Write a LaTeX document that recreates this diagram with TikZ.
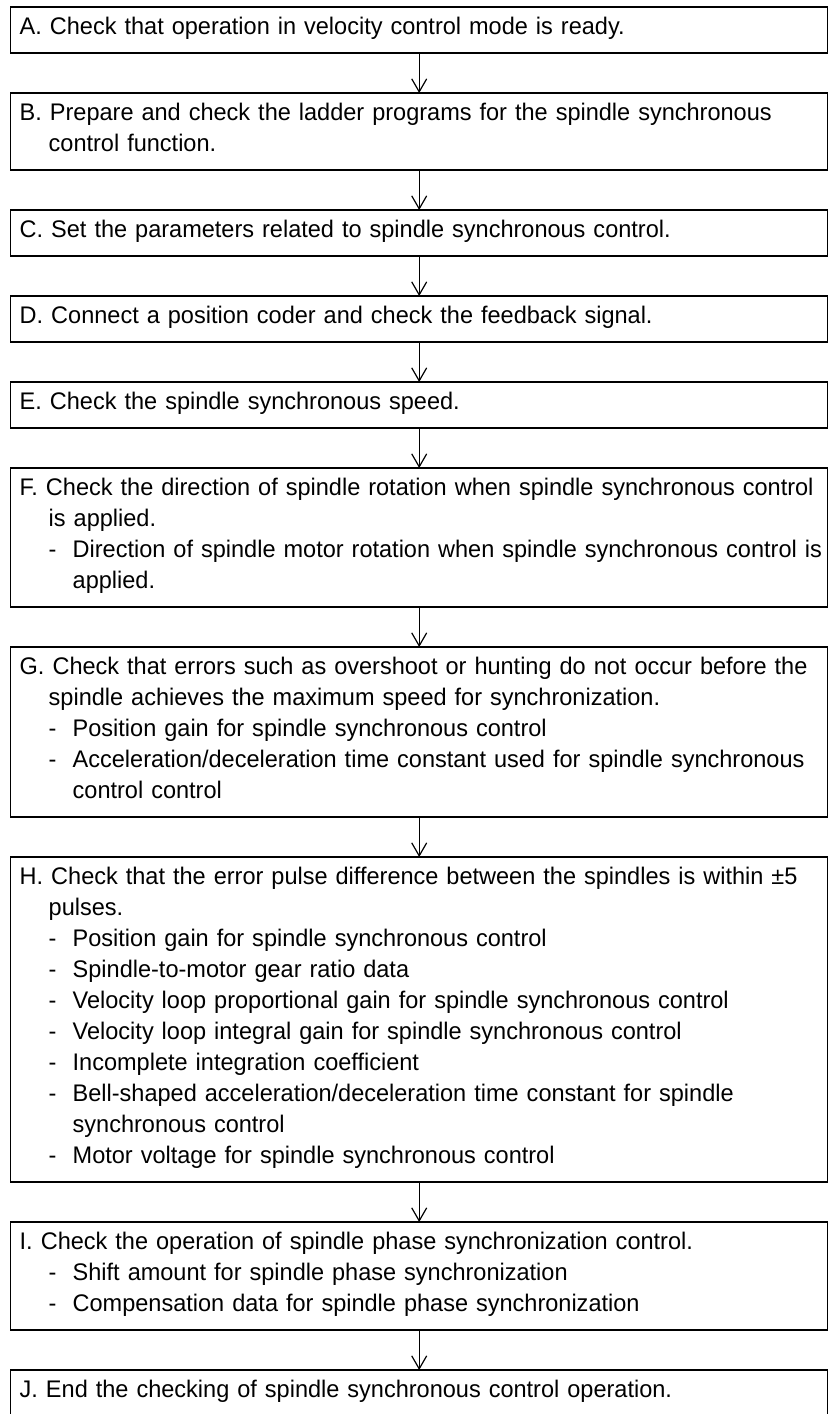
\documentclass[tikz,border=0pt]{standalone}
\usepackage{fontspec}
\setmainfont[FakeStretch=0.98]{Liberation Sans}
\usepackage{xcolor}
\usepackage{tikz}
\usetikzlibrary{arrows.meta,positioning}
\newcommand{\upst}{\rule{0pt}{10.5pt}}
\newcommand{\downst}{\rule[-6.5pt]{0pt}{0pt}}
\newcommand{\stepline}[1]{\mbox{#1}}
\newcommand{\cont}[1]{\mbox{\hspace*{14.5pt}#1}}
\newcommand{\itm}[1]{\mbox{\hspace*{14.5pt}\makebox[12pt][l]{-}#1}}
\newcommand{\itmcont}[1]{\mbox{\hspace*{26.5pt}#1}}

\begin{document}
\begin{tikzpicture}[
    stepbox/.style={
        draw=black,
        line width=0.75pt,
        align=left,
        text width=399.5pt,
        inner xsep=4.5pt,
        inner ysep=3pt,
        outer sep=0pt,
        font=\fontsize{12pt}{15.5pt}\selectfont,
        execute at begin node=\upst,
        execute at end node=\downst
    },
    flow/.style={-{Straight Barb[length=6.5pt,width=7.5pt]}, line width=0.6pt, draw=black}
]
    \useasboundingbox[fill=white] (0,0) rectangle (416pt,-707pt);

    \node[stepbox, anchor=north west] (velocity) at (5.35pt,-3.5pt) {
        \stepline{A. Check that operation in velocity control mode is ready.}
    };

    \node[stepbox, below=20pt of velocity] (ladder) {
        \stepline{B. Prepare and check the ladder programs for the spindle synchronous}\\
        \cont{control function.}
    };

    \node[stepbox, below=20pt of ladder] (params) {
        \stepline{C. Set the parameters related to spindle synchronous control.}
    };

    \node[stepbox, below=20pt of params] (coder) {
        \stepline{D. Connect a position coder and check the feedback signal.}
    };

    \node[stepbox, below=20pt of coder] (speed) {
        \stepline{E. Check the spindle synchronous speed.}
    };

    \node[stepbox, below=20pt of speed] (direction) {
        \stepline{F. Check the direction of spindle rotation when spindle synchronous control}\\
        \cont{is applied.}\\
        \itm{Direction of spindle motor rotation when spindle synchronous control is}\\
        \itmcont{applied.}
    };

    \node[stepbox, below=20pt of direction] (hunting) {
        \stepline{G. Check that errors such as overshoot or hunting do not occur before the}\\
        \cont{spindle achieves the maximum speed for synchronization.}\\
        \itm{Position gain for spindle synchronous control}\\
        \itm{Acceleration/deceleration time constant used for spindle synchronous}\\
        \itmcont{control control}
    };

    \node[stepbox, below=20pt of hunting] (pulses) {
        \stepline{H. Check that the error pulse difference between the spindles is within ±5}\\
        \cont{pulses.}\\
        \itm{Position gain for spindle synchronous control}\\
        \itm{Spindle-to-motor gear ratio data}\\
        \itm{Velocity loop proportional gain for spindle synchronous control}\\
        \itm{Velocity loop integral gain for spindle synchronous control}\\
        \itm{Incomplete integration coefficient}\\
        \itm{Bell-shaped acceleration/deceleration time constant for spindle}\\
        \itmcont{synchronous control}\\
        \itm{Motor voltage for spindle synchronous control}
    };

    \node[stepbox, below=20pt of pulses] (phase) {
        \stepline{I. Check the operation of spindle phase synchronization control.}\\
        \itm{Shift amount for spindle phase synchronization}\\
        \itm{Compensation data for spindle phase synchronization}
    };

    \node[stepbox, below=20pt of phase] (finish) {
        \stepline{J. End the checking of spindle synchronous control operation.}
    };

    \draw[flow] (velocity) -- (ladder);
    \draw[flow] (ladder) -- (params);
    \draw[flow] (params) -- (coder);
    \draw[flow] (coder) -- (speed);
    \draw[flow] (speed) -- (direction);
    \draw[flow] (direction) -- (hunting);
    \draw[flow] (hunting) -- (pulses);
    \draw[flow] (pulses) -- (phase);
    \draw[flow] (phase) -- (finish);
\end{tikzpicture}
\end{document}
